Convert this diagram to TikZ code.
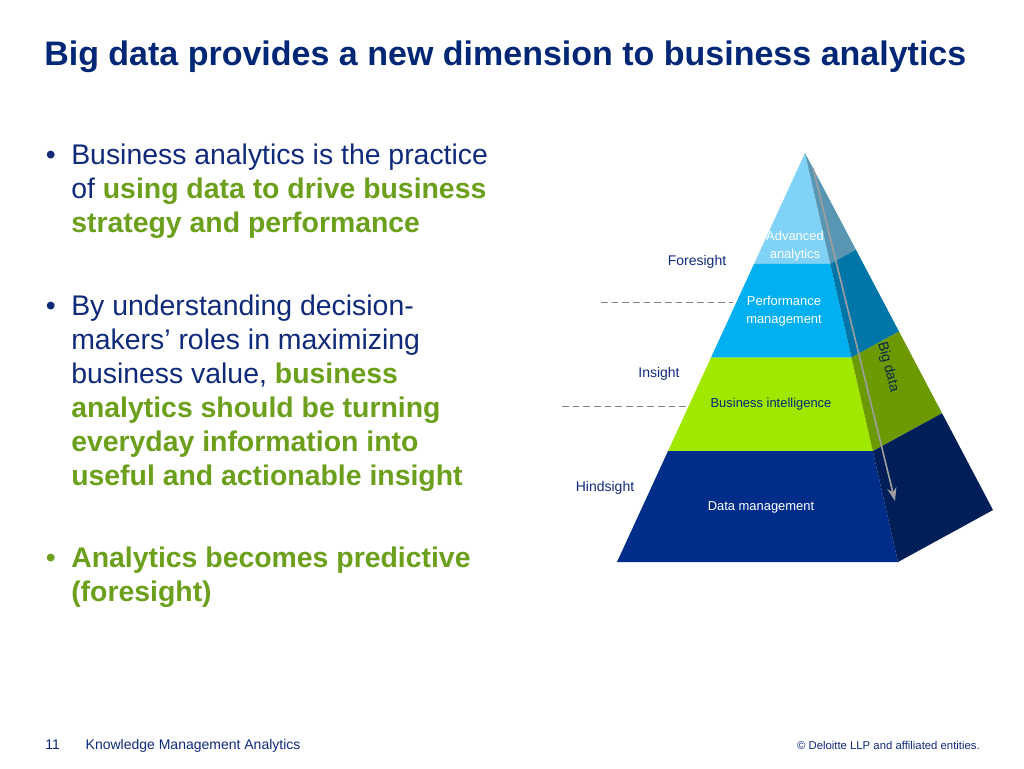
\documentclass[tikz,border=0pt]{standalone}
\usepackage{fontspec}
\setmainfont{Liberation Sans}
\usetikzlibrary{arrows.meta, calc, positioning}
\definecolor{navy}{RGB}{0,39,118}
\definecolor{txtblue}{RGB}{16,42,122}
\definecolor{leaf}{RGB}{108,160,28}
\definecolor{aafront}{RGB}{128,210,246}
\definecolor{aaside}{RGB}{88,150,180}
\definecolor{pmfront}{RGB}{0,176,240}
\definecolor{pmside}{RGB}{0,118,168}
\definecolor{bifront}{RGB}{160,232,0}
\definecolor{biside}{RGB}{108,152,0}
\definecolor{dmfront}{RGB}{0,45,138}
\definecolor{dmside}{RGB}{0,30,88}
\definecolor{bigdata}{RGB}{12,40,72}
\newcommand{\greenbf}[1]{\textbf{\color{leaf}#1}}
\tikzset{
  body/.style={anchor=base west, inner sep=0pt, align=left, text=txtblue, font=\fontsize{21.3}{25.5}\selectfont},
  dot/.style={anchor=base east, inner sep=0pt, text=txtblue, font=\fontsize{21.3}{25.5}\selectfont},
  sight/.style={inner sep=0pt, text=txtblue, font=\fontsize{10.5}{12}\selectfont},
  layer/.style={inner sep=0pt, align=center, font=\fontsize{9.7}{13.5}\selectfont},
  level/.style={gray, line width=0.7pt, dash pattern=on 5pt off 3pt},
  foot/.style={inner sep=0pt, text=txtblue, font=\fontsize{10.5}{12}\selectfont}
}

\begin{document}
\begin{tikzpicture}[x=0.75pt, y=-0.75pt]
\fill[white] (0,0) rectangle (1024,768);
\useasboundingbox (0,0) rectangle (1024,768);
\node[anchor=base west, inner sep=0pt, text=navy, font=\fontsize{25.5}{30}\selectfont\bfseries] (title) at (44,65) {Big data provides a new dimension to business analytics};
\node[body] (P1) at (71,232) {Business analytics is the practice\\of \greenbf{using data to drive business}\\\greenbf{strategy and performance}};
\node[body] (P2) at (71,485) {By understanding decision-\\makers’ roles in maximizing\\business value, \greenbf{business}\\\greenbf{analytics should be turning}\\\greenbf{everyday information into}\\\greenbf{useful and actionable insight}};
\node[body] (P3) at (71,601) {\greenbf{Analytics becomes predictive}\\\greenbf{(foresight)}};
\node[dot] (D1) at (56,164) {•};
\node[dot] (D2) at (56,315) {•};
\node[dot, text=leaf] (D3) at (56,567) {•};
\coordinate (A) at (805,153);
\coordinate (BL) at (617,562);
\coordinate (BR) at (898,562);
\coordinate (BB) at (993,510);
\fill[aafront] (A) -- ($(A)!0.271!(BL)$) -- ($(A)!0.271!(BR)$) -- cycle;
\fill[pmfront] ($(A)!0.271!(BL)$) -- ($(A)!0.5!(BL)$) -- ($(A)!0.5!(BR)$) -- ($(A)!0.271!(BR)$) -- cycle;
\fill[bifront] ($(A)!0.5!(BL)$) -- ($(A)!0.729!(BL)$) -- ($(A)!0.729!(BR)$) -- ($(A)!0.5!(BR)$) -- cycle;
\fill[dmfront] ($(A)!0.729!(BL)$) -- (BL) -- (BR) -- ($(A)!0.729!(BR)$) -- cycle;
\fill[aaside] (A) -- ($(A)!0.271!(BR)$) -- ($(A)!0.271!(BB)$) -- cycle;
\fill[pmside] ($(A)!0.271!(BR)$) -- ($(A)!0.5!(BR)$) -- ($(A)!0.5!(BB)$) -- ($(A)!0.271!(BB)$) -- cycle;
\fill[biside] ($(A)!0.5!(BR)$) -- ($(A)!0.729!(BR)$) -- ($(A)!0.729!(BB)$) -- ($(A)!0.5!(BB)$) -- cycle;
\fill[dmside] ($(A)!0.729!(BR)$) -- (BR) -- (BB) -- ($(A)!0.729!(BB)$) -- cycle;
\node[layer, text=white] (AA) at (795,246) {Advanced\\analytics};
\node[layer, text=white] (PM) at (784,311) {Performance\\management};
\node[layer, text=navy] (BI) at (771,404) {Business intelligence};
\node[layer, text=white] (DM) at (761,507) {Data management};
\coordinate (bd top) at (813,168);
\coordinate (bd bot) at (895,501);
\draw[-{Stealth[length=10pt, width=7pt]}, line width=1.2pt, color=gray!75] (bd top) -- (bd bot);
\node[inner sep=0pt, rotate=-75.5, text=bigdata, font=\fontsize{10.5}{12}\selectfont] (BD) at (888,367) {Big data};
\node[sight] (FS) at (697,262) {Foresight};
\node[sight] (IS) at (659,374) {Insight};
\node[sight] (HS) at (605,488) {Hindsight};
\coordinate (L1a) at (601,302);
\coordinate (L1b) at (733,302);
\coordinate (L2a) at (562,406);
\coordinate (L2b) at (690,406);
\draw[level] (L1a) -- (L1b);
\draw[level] (L2a) -- (L2b);
\node[foot, anchor=base west] (num) at (45,749) {11};
\node[foot, base right = 19pt of num] (KMA) {Knowledge Management Analytics};
\node[foot, anchor=base east, font=\fontsize{8.5}{10}\selectfont] (copy) at (980,749) {© Deloitte LLP and affiliated entities.};
\end{tikzpicture}
\end{document}
